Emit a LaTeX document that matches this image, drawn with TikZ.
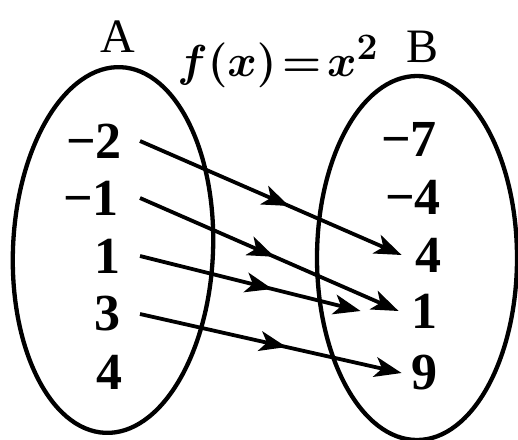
\documentclass[tikz,border=0pt]{standalone}
\usepackage{fontspec}
\setmainfont{Liberation Serif}
\usetikzlibrary{arrows.meta,decorations.markings}
\tikzset{
  setell/.style={line width=4.3pt},
  lnum/.style={inner sep=0pt, anchor=east, font=\fontsize{52}{56}\selectfont\bfseries},
  rnum/.style={inner sep=0pt, anchor=east, font=\fontsize{52}{56}\selectfont\bfseries},
  setlbl/.style={inner sep=0pt, anchor=base, font=\fontsize{48}{52}\selectfont},
  conn/.style={line width=3.8pt, -{Stealth[length=27pt,width=20pt,inset=7pt]},
    postaction={decorate},
    decoration={markings, mark=at position #1 with {\arrow{Stealth[length=27pt,width=20pt,inset=7pt]}}}},
}
\begin{document}
\begin{tikzpicture}[x=1pt,y=-1pt]
\useasboundingbox (0,0) rectangle (518,439);
% sets
\draw[setell, rotate around={-2.5:(113,250)}] (113,250) ellipse [x radius=100pt, y radius=183pt];
\draw[setell] (417,258) ellipse [x radius=100pt, y radius=182pt];
% labels
\node[setlbl] (labA) at (118,52) {A};
\node[setlbl] (labB) at (422,62) {B};
\node[inner sep=0pt, anchor=base, scale=1.8, font=\Huge\boldmath] (fx) at (278,76)
  {$f(x)\mkern-3mu=\mkern-3mu x^{2}$};
% domain
\node[lnum] (la1) at (122,141) {−2};
\node[lnum] (la2) at (119,198) {−1};
\node[lnum] (la3) at (121,256) {1};
\node[lnum] (la4) at (121,314) {3};
\node[lnum] (la5) at (123,372) {4};
% codomain
\node[rnum] (rb1) at (437,139) {−7};
\node[rnum] (rb2) at (441,197) {−4};
\node[rnum] (rb3) at (442,255) {4};
\node[rnum] (rb4) at (438,311) {1};
\node[rnum] (rb5) at (438,373) {9};
% mapping
\draw[conn=0.57] ([xshift=18pt]la1.east) -- ([xshift=-14pt]rb3.west);
\draw[conn=0.52] ([xshift=21pt]la2.east) -- ([xshift=-13pt]rb4.west);
\draw[conn=0.60] ([xshift=19pt]la3.east) -- ([xshift=-51pt]rb4.west);
\draw[conn=0.56] ([xshift=19pt]la4.east) -- ([xshift=-10pt]rb5.west);
\end{tikzpicture}
\end{document}
